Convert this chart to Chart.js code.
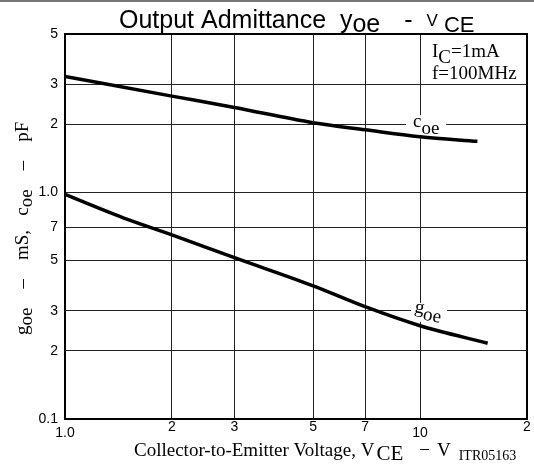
<!DOCTYPE html>
<html>
<head>
<meta charset="utf-8">
<title>Output Admittance yoe - VCE</title>
<script src="https://cdn.jsdelivr.net/npm/chart.js@4.4.1/dist/chart.umd.min.js"></script>
<style>
    html, body { margin: 0; padding: 0; background: #fff; }
    canvas { display: block; }
</style>
</head>
<body>
<canvas id="graficoAdmitancia" width="534" height="468"></canvas>
<script>
// eixos (so as linhas de grade que aparecem no datasheet)
const vceTicks = [1, 2, 3, 5, 7, 10, 20];
const vceTickLabels = ['1.0', '2', '3', '5', '7', '10', '2'];
const yTicks = [0.1, 0.2, 0.3, 0.5, 0.7, 1, 2, 3, 5];
const yTickLabels = ['0.1', '2', '3', '5', '7', '1.0', '2', '3', '5'];

// curvas
const vceCoe = [1, 2, 3, 5, 7, 10, 14.5];
const coe = [3.25, 2.66, 2.37, 2.03, 1.89, 1.76, 1.68];
const vceGoe = [1, 1.5, 2, 3, 5, 7, 10, 15.5];
const goe = [0.98, 0.76, 0.65, 0.515, 0.387, 0.313, 0.258, 0.216];

const SANS = '"Liberation Sans", Arial, sans-serif';
const SERIF = '"Liberation Serif", "Times New Roman", serif';

function toPoints(xs, ys) {
    return xs.map((x, i) => ({ x: x, y: ys[i] }));
}

// desenha pedacos de texto em sequencia (para os subscritos)
function drawRuns(ctx, x, y, runs) {
    let cx = x;
    runs.forEach(r => {
        cx += r.gap || 0;
        ctx.font = r.size + 'px ' + r.family;
        ctx.fillText(r.text, cx, y + (r.dy || 0));
        cx += ctx.measureText(r.text).width;
    });
}

const anotacoes = {
    id: 'anotacoes',
    beforeDraw(chart) {
        const ctx = chart.ctx;
        ctx.save();
        ctx.fillStyle = '#fff';
        ctx.fillRect(0, 0, chart.width, chart.height);
        ctx.fillStyle = '#777';
        ctx.fillRect(0, 0, chart.width, 2);
        ctx.restore();
    },
    beforeDatasetsDraw(chart) {
        const ctx = chart.ctx;
        const sx = chart.scales.x;
        const sy = chart.scales.y;
        const a = chart.chartArea;
        const px = sx.getPixelForValue(10);
        const pyC = sy.getPixelForValue(2);
        const pyG = sy.getPixelForValue(0.3);

        ctx.save();
        // moldura
        ctx.strokeStyle = '#000';
        ctx.lineWidth = 2;
        ctx.strokeRect(a.left, a.top, a.right - a.left, a.bottom - a.top);

        // caixas brancas sob os rotulos das curvas
        ctx.fillStyle = '#fff';
        ctx.fillRect(px - 14, pyC - 9, 40, 23);
        ctx.fillRect(px - 9, pyG - 8, 36, 19);

        ctx.fillStyle = '#000';
        ctx.textBaseline = 'alphabetic';
        drawRuns(ctx, px - 7, pyC + 3, [
            { text: 'c', size: 19, family: SERIF },
            { text: 'oe', size: 19, family: SERIF, dy: 7 }
        ]);

        ctx.save();
        ctx.translate(px - 6, pyG + 1);
        ctx.rotate(0.19);
        drawRuns(ctx, 0, 0, [
            { text: 'g', size: 19, family: SERIF },
            { text: 'oe', size: 19, family: SERIF, dy: 6 }
        ]);
        ctx.restore();

        // condicoes de medida
        drawRuns(ctx, 432, 57, [
            { text: 'I', size: 19, family: SERIF },
            { text: 'C', size: 19, family: SERIF, dy: 6 },
            { text: '=1mA', size: 19, family: SERIF }
        ]);
        drawRuns(ctx, 432, 79, [
            { text: 'f=100MHz', size: 19, family: SERIF }
        ]);
        ctx.restore();
    },
    afterDraw(chart) {
        const ctx = chart.ctx;
        ctx.save();
        ctx.fillStyle = '#000';
        ctx.textBaseline = 'alphabetic';

        // titulo
        drawRuns(ctx, 119, 28, [
            { text: 'Output Admittance  y', size: 25, family: SANS },
            { text: 'oe', size: 25, family: SANS, dy: 4 },
            { text: '-', size: 25, family: SANS, gap: 24 },
            { text: 'V', size: 17, family: SANS, gap: 14, dy: -2 },
            { text: 'CE', size: 22, family: SANS, gap: 6, dy: 4 }
        ]);

        // titulo do eixo x
        drawRuns(ctx, 134, 456, [
            { text: 'Collector-to-Emitter Voltage, V', size: 19, family: SERIF },
            { text: 'CE', size: 21, family: SERIF, gap: 2, dy: 4 },
            { text: '\u2212', size: 19, family: SERIF, gap: 16 },
            { text: 'V', size: 19, family: SERIF, gap: 7 },
            { text: 'ITR05163', size: 14, family: SERIF, gap: 8, dy: 4 }
        ]);

        // titulo do eixo y (girado)
        ctx.translate(28, 335);
        ctx.rotate(-Math.PI / 2);
        drawRuns(ctx, 0, 0, [
            { text: 'g', size: 19, family: SERIF },
            { text: 'oe', size: 19, family: SERIF, dy: 4 },
            { text: '    \u2013    mS,   c', size: 19, family: SERIF },
            { text: 'oe', size: 19, family: SERIF, dy: 4 },
            { text: '    \u2013    pF', size: 19, family: SERIF }
        ]);
        ctx.restore();
    }
};

const canvas = document.getElementById('graficoAdmitancia');
new Chart(canvas, {
    type: 'line',
    data: {
        datasets: [
            {
                label: 'coe',
                data: toPoints(vceCoe, coe),
                borderColor: '#000',
                borderWidth: 3.5,
                pointRadius: 0,
                cubicInterpolationMode: 'monotone',
                fill: false
            },
            {
                label: 'goe',
                data: toPoints(vceGoe, goe),
                borderColor: '#000',
                borderWidth: 3.5,
                pointRadius: 0,
                cubicInterpolationMode: 'monotone',
                fill: false
            }
        ]
    },
    options: {
        responsive: false,
        animation: false,
        layout: { padding: { top: 34, right: 7, bottom: 0, left: 0 } },
        plugins: {
            legend: { display: false },
            title: { display: false },
            tooltip: { enabled: false }
        },
        scales: {
            x: {
                type: 'logarithmic',
                min: 1,
                max: 20,
                afterBuildTicks: (scale) => { scale.ticks = vceTicks.map(v => ({ value: v })); },
                afterFit: (scale) => { scale.height = 49; },
                grid: { color: '#222', lineWidth: 1, drawTicks: false },
                border: { display: true, color: '#000', width: 2 },
                ticks: {
                    autoSkip: false,
                    maxRotation: 0,
                    padding: 0,
                    color: '#000',
                    font: (ctx) => ({
                        family: SANS,
                        size: 14,
                        lineHeight: (ctx.tick && (ctx.tick.value === 1 || ctx.tick.value === 10)) ? 2.0 : 1.2
                    }),
                    callback: (value, index) => vceTickLabels[index]
                }
            },
            y: {
                type: 'logarithmic',
                min: 0.1,
                max: 5,
                afterBuildTicks: (scale) => { scale.ticks = yTicks.map(v => ({ value: v })); },
                afterFit: (scale) => { scale.width = 65; },
                grid: { color: '#222', lineWidth: 1, drawTicks: false },
                border: { display: true, color: '#000', width: 2 },
                ticks: {
                    autoSkip: false,
                    padding: 7,
                    color: '#000',
                    font: { family: SANS, size: 14 },
                    callback: (value, index) => yTickLabels[index]
                }
            }
        }
    },
    plugins: [anotacoes]
});
</script>
</body>
</html>
